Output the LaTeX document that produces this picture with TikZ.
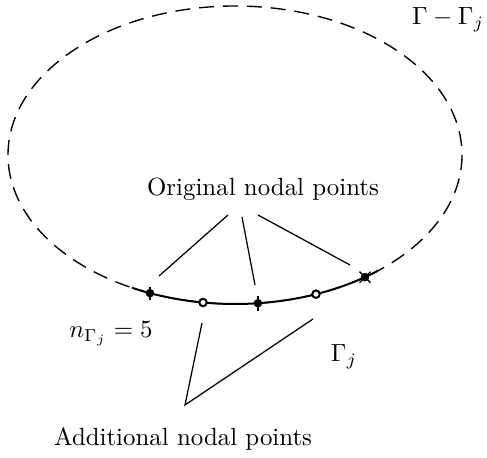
\documentclass[tikz,border=0pt]{standalone}
\begin{document}
\begin{tikzpicture}[x=0.402pt,y=-0.402pt,
  lbl/.style={inner sep=1pt},
  conn/.style={line width=0.5pt},
  dotfill/.style={circle,fill=black,draw=black,inner sep=0pt,minimum size=3pt},
  dotopen/.style={circle,draw=black,fill=white,line width=0.8pt,inner sep=0pt,minimum size=3pt}]
\useasboundingbox (0,0) rectangle (487,458);
% dashed boundary Gamma - Gamma_j
\draw[line width=0.55pt,dash pattern=on 6pt off 3.6pt] (235,155) ellipse [x radius=227, y radius=149];
% solid part Gamma_j
\draw[line width=0.8pt] plot[domain=51:117,samples=60] ({235+227*cos(\x)},{155+149*sin(\x)});
% nodal points
\node[dotfill] (p1) at ({235+227*cos(112)},{155+149*sin(112)}) {};
\node[dotopen] (p2) at ({235+227*cos(98.1)},{155+149*sin(98.1)}) {};
\node[dotfill] (p3) at ({235+227*cos(84.2)},{155+149*sin(84.2)}) {};
\node[dotopen] (p4) at ({235+227*cos(69.1)},{155+149*sin(69.1)}) {};
\node[dotfill] (p5) at ({235+227*cos(55.06)},{155+149*sin(55.06)}) {};
\draw[line width=0.5pt] ([yshift=-3pt]p3.center) -- ([yshift=3pt]p3.center);
\draw[line width=0.5pt] ([xshift=-2.2pt,yshift=2.2pt]p5.center) -- ([xshift=2.2pt,yshift=-2.2pt]p5.center);
\draw[line width=0.5pt] ([xshift=-2.2pt,yshift=-2.2pt]p5.center) -- ([xshift=2.2pt,yshift=2.2pt]p5.center);
\draw[line width=0.5pt] ([yshift=-2.6pt]p1.center) -- ([yshift=2.6pt]p1.center);
% labels
\node[lbl] (orig) at (263,189) {Original nodal points};
\node[lbl] (addl) at (183,439) {Additional nodal points};
\node[lbl] (gmg) at (448,20) {$\Gamma-\Gamma_j$};
\node[lbl] (ng) at (111,334) {$n_{\Gamma_j}=5$};
\node[lbl] (gj) at (344,357) {$\Gamma_j$};
% connector coordinates
\coordinate (o1s) at (228,215);
\coordinate (o2s) at (242,217);
\coordinate (o3s) at (258,215);
\coordinate (o1e) at (159,276);
\coordinate (o2e) at (255,285);
\coordinate (o3e) at (350,265);
\coordinate (apex) at (185,405);
\coordinate (a1e) at (202,323);
\coordinate (a2e) at (313,319);
\draw[conn] (o1s) -- (o1e);
\draw[conn] (o2s) -- (o2e);
\draw[conn] (o3s) -- (o3e);
\draw[conn] (a1e) -- (apex) -- (a2e);
\end{tikzpicture}
\end{document}
